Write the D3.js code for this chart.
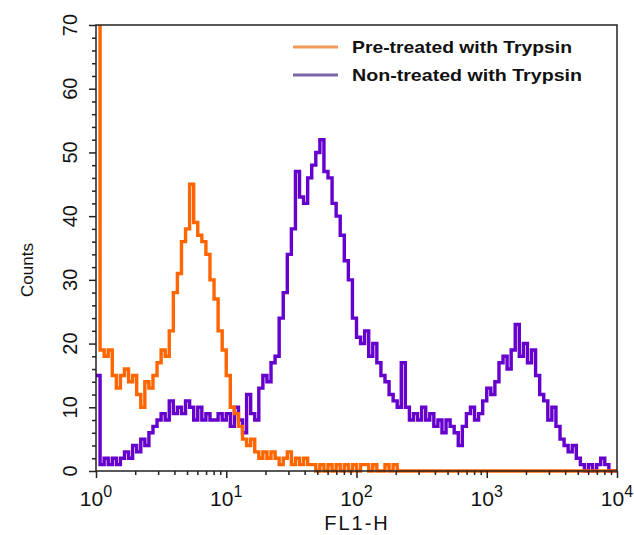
<!DOCTYPE html>
<html>
<head>
<meta charset="utf-8">
<script src="https://cdn.jsdelivr.net/npm/d3@7"></script>
<style>
  html, body { margin: 0; padding: 0; background: #fff; }
  svg { display: block; }
</style>
</head>
<body>
<svg id="chart" width="634" height="535"></svg>
<script>
// FL1-H histogram: 128 log-spaced channels across four decades (32 per decade)
const channelsPerDecade = 32;
const decades = [0, 1, 2, 3, 4];
const countTicks = [0, 10, 20, 30, 40, 50, 60, 70];

const seriesNames = ["Pre-treated with Trypsin", "Non-treated with Trypsin"];

// Pre-treated with Trypsin (first channel is off scale)
const preTreated = [
  95, 19, 18, 19, 15, 13, 15, 16, 14, 15, 12, 10, 14, 13, 15, 17,
  19, 18, 22, 28, 31, 36, 38, 45, 39, 37, 36, 34, 30, 27, 22, 19,
  15, 10, 9, 7, 5, 4, 5, 3, 2, 3, 2, 3, 2, 1, 2, 3,
  1, 2, 1, 2, 1, 1, 0, 1, 0, 1, 0, 1, 0, 1, 0, 1,
  0, 1, 1, 0, 1, 0, 0, 1, 0, 1, 0, 0, 0, 0, 0, 0,
  0, 0, 0, 0, 0, 0, 0, 0, 0, 0, 0, 0, 0, 0, 0, 0,
  0, 0, 0, 0, 0, 0, 0, 0, 0, 0, 0, 0, 0, 0, 0, 0,
  0, 0, 0, 0, 0, 0, 0, 0, 0, 0, 0, 0, 0, 0, 0, 0
];

// Non-treated with Trypsin
const nonTreated = [
  15, 1, 2, 1, 2, 1, 2, 3, 2, 4, 3, 5, 4, 6, 7, 8,
  9, 8, 11, 9, 10, 9, 11, 10, 8, 10, 8, 9, 8, 8, 9, 8,
  9, 7, 10, 8, 6, 12, 9, 8, 13, 15, 14, 17, 18, 24, 28, 34,
  38, 47, 43, 42, 46, 48, 50, 52, 47, 46, 42, 40, 37, 33, 30, 24,
  21, 20, 22, 18, 20, 17, 15, 14, 12, 11, 10, 17, 10, 8, 9, 8,
  10, 8, 9, 7, 8, 6, 8, 7, 6, 4, 7, 9, 10, 8, 9, 11,
  13, 12, 14, 17, 18, 16, 19, 23, 18, 20, 17, 19, 15, 12, 11, 8,
  10, 7, 5, 4, 3, 4, 2, 1, 0, 1, 0, 1, 2, 1, 0, 0
];

const colors = { pre: "#ff6600", non: "#6600cc" };
const legendColors = { pre: "#f39a5a", non: "#7d66a8" };

const svg = d3.select("#chart");
const plotLeft = 96, plotRight = 617, plotTop = 25, plotBottom = 471;

const x = d3.scaleLog().domain([1, 1e4]).range([plotLeft, plotRight]);
const y = d3.scaleLinear().domain([0, 70]).range([plotBottom, plotTop]);

// Channel edges -> step points
function stepPoints(values) {
  const pts = values.map((v, i) => [Math.pow(10, i / channelsPerDecade), v]);
  pts.push([1e4, values[values.length - 1]]);
  return pts;
}

const line = d3.line()
  .x(d => x(d[0]))
  .y(d => y(d[1]))
  .curve(d3.curveStepAfter);

svg.append("defs").append("clipPath").attr("id", "plotClip")
  .append("rect")
  .attr("x", plotLeft - 3).attr("y", plotTop)
  .attr("width", plotRight - plotLeft + 3).attr("height", plotBottom - plotTop + 2);

const plot = svg.append("g").attr("clip-path", "url(#plotClip)");

plot.append("path")
  .datum(stepPoints(nonTreated))
  .attr("d", line)
  .attr("fill", "none")
  .attr("stroke", colors.non)
  .attr("stroke-width", 3.4)
  .attr("stroke-linejoin", "miter");

plot.append("path")
  .datum(stepPoints(preTreated))
  .attr("d", line)
  .attr("fill", "none")
  .attr("stroke", colors.pre)
  .attr("stroke-width", 3.4)
  .attr("stroke-linejoin", "miter");

// Frame
svg.append("rect")
  .attr("x", plotLeft).attr("y", plotTop)
  .attr("width", plotRight - plotLeft).attr("height", plotBottom - plotTop)
  .attr("fill", "none")
  .attr("stroke", "#222")
  .attr("stroke-width", 1.5);

// Y axis: major ticks every 10, minor every 2
const yMinor = d3.range(0, 71, 2).filter(v => v % 10 !== 0);
const yAxisMinor = d3.axisLeft(y).tickValues(yMinor).tickSize(4).tickFormat("");
const yAxisMajor = d3.axisLeft(y).tickValues(countTicks).tickSize(7).tickFormat("");
[yAxisMinor, yAxisMajor].forEach(ax => {
  const g = svg.append("g").attr("transform", `translate(${plotLeft},0)`).call(ax);
  g.select(".domain").remove();
  g.selectAll("line").attr("stroke", "#222").attr("stroke-width", 1.5);
});

svg.append("g").selectAll("text")
  .data(countTicks)
  .join("text")
  .attr("transform", d => `translate(77,${y(d)}) rotate(-90)`)
  .attr("text-anchor", "middle")
  .attr("font-family", "Liberation Sans, Arial, sans-serif")
  .attr("font-size", 20)
  .attr("fill", "#111")
  .text(d => d);

// X axis: decades with minor ticks at 2..9
const xMajor = decades.map(d => Math.pow(10, d));
const xMinor = [];
for (let d = 0; d < 4; d++) for (let m = 2; m <= 9; m++) xMinor.push(m * Math.pow(10, d));
const xAxisMinor = d3.axisBottom(x).tickValues(xMinor).tickSize(4).tickFormat("");
const xAxisMajor = d3.axisBottom(x).tickValues(xMajor).tickSize(7).tickFormat("");
[xAxisMinor, xAxisMajor].forEach(ax => {
  const g = svg.append("g").attr("transform", `translate(0,${plotBottom})`).call(ax);
  g.select(".domain").remove();
  g.selectAll("line").attr("stroke", "#222").attr("stroke-width", 1.5);
});

const xl = svg.append("g").selectAll("text")
  .data(decades)
  .join("text")
  .attr("x", d => x(Math.pow(10, d)))
  .attr("y", 506)
  .attr("text-anchor", "middle")
  .attr("font-family", "Liberation Sans, Arial, sans-serif")
  .attr("font-size", 21)
  .attr("fill", "#111");
xl.append("tspan").text("10");
xl.append("tspan").attr("dy", -9).attr("font-size", 16).text(d => d);

// Axis titles
svg.append("text")
  .attr("x", 357).attr("y", 530)
  .attr("text-anchor", "middle")
  .attr("font-family", "Liberation Sans, Arial, sans-serif")
  .attr("font-size", 20)
  .attr("letter-spacing", 2)
  .attr("fill", "#111")
  .text("FL1-H");

svg.append("text")
  .attr("transform", "translate(33,270) rotate(-90)")
  .attr("text-anchor", "middle")
  .attr("font-family", "Liberation Sans, Arial, sans-serif")
  .attr("font-size", 17)
  .attr("fill", "#111")
  .text("Counts");

// Legend
const legend = svg.append("g");
const legendItems = [
  { name: seriesNames[0], color: legendColors.pre, yy: 47, len: 220 },
  { name: seriesNames[1], color: legendColors.non, yy: 75, len: 230 }
];
legend.selectAll("line")
  .data(legendItems)
  .join("line")
  .attr("x1", 293).attr("x2", 338)
  .attr("y1", d => d.yy).attr("y2", d => d.yy)
  .attr("stroke", d => d.color)
  .attr("stroke-width", 3);
legend.selectAll("text")
  .data(legendItems)
  .join("text")
  .attr("x", 352)
  .attr("y", d => d.yy + 6)
  .attr("font-family", "Liberation Sans, Arial, sans-serif")
  .attr("font-weight", "bold")
  .attr("font-size", 16.5)
  .attr("textLength", d => d.len)
  .attr("lengthAdjust", "spacingAndGlyphs")
  .attr("fill", "#111")
  .text(d => d.name);
</script>
</body>
</html>
